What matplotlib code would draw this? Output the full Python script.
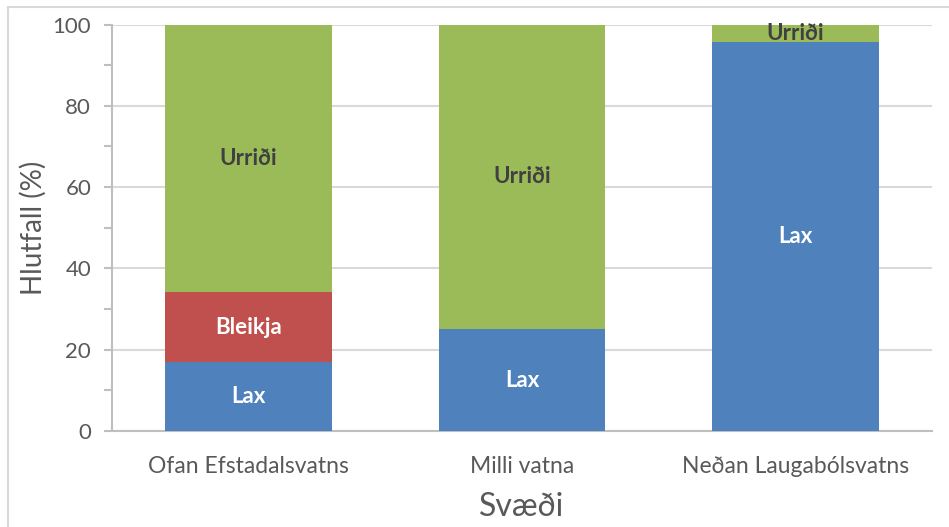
import matplotlib
matplotlib.use("Agg")
import matplotlib.pyplot as plt
import numpy as np
from matplotlib.patches import Rectangle

# gögn
svaedi = ["Ofan Efstadalsvatns", "Milli vatna", "Neðan Laugabólsvatns"]
lax = [17.0, 25.0, 95.6]
bleikja = [17.2, 0.0, 0.0]
urridi = [65.8, 75.0, 4.4]

plt.rcParams['font.family'] = ['Lato', 'DejaVu Sans']

fig = plt.figure(figsize=(9.49, 5.27), dpi=100)
ax = fig.add_axes([0.118, 0.182, 0.864, 0.7715])

x = np.arange(len(svaedi))
w = 0.61
b1 = ax.bar(x, lax, w, color="#4F81BD", zorder=3)
b2 = ax.bar(x, bleikja, w, bottom=lax, color="#C0504D", zorder=3)
botn = np.array(lax) + np.array(bleikja)
b3 = ax.bar(x, urridi, w, bottom=botn, color="#9BBB59", zorder=3)

# merkingar
for i in range(len(svaedi)):
    ax.text(x[i], lax[i] / 2, "Lax", ha="center", va="center",
            color="white", fontsize=16, fontweight="bold", zorder=4)
    if bleikja[i] > 0:
        ax.text(x[i], lax[i] + bleikja[i] / 2, "Bleikja", ha="center", va="center",
                color="white", fontsize=16, fontweight="bold", zorder=4)
    ax.text(x[i], botn[i] + urridi[i] / 2, "Urriði", ha="center", va="center",
            color="#404040", fontsize=16, fontweight="bold", zorder=4)

ax.set_xlim(-0.5, 2.5)
ax.set_ylim(0, 100)
ax.set_yticks(range(0, 101, 20))
ax.set_yticks(range(10, 100, 20), minor=True)
ax.set_xticks(x)
ax.set_xticklabels(svaedi)
ax.grid(axis="y", color="#D9D9D9", linewidth=1.5, zorder=0)

for s in ["top", "right"]:
    ax.spines[s].set_visible(False)
ax.spines["left"].set_color("#BFBFBF")
ax.spines["bottom"].set_color("#BFBFBF")
ax.spines["left"].set_linewidth(1.5)
ax.spines["bottom"].set_linewidth(1.5)

ax.tick_params(axis="y", which="both", length=6, color="#BFBFBF", width=1.5,
               labelsize=16, labelcolor="#595959", pad=9)
ax.tick_params(axis="x", length=0, labelsize=16.5, labelcolor="#595959", pad=18)

ax.set_ylabel("Hlutfall (%)", fontsize=20, color="#595959", labelpad=4)
ax.set_xlabel("Svæði", fontsize=23, color="#595959", labelpad=11)

# rammi
fig.patches.append(Rectangle((8 / 949, -0.1), 1.2, 1.1 - 7 / 527, transform=fig.transFigure,
                             fill=False, edgecolor="#D9D9D9", linewidth=1.5))

fig.savefig("out.png", dpi=100)
